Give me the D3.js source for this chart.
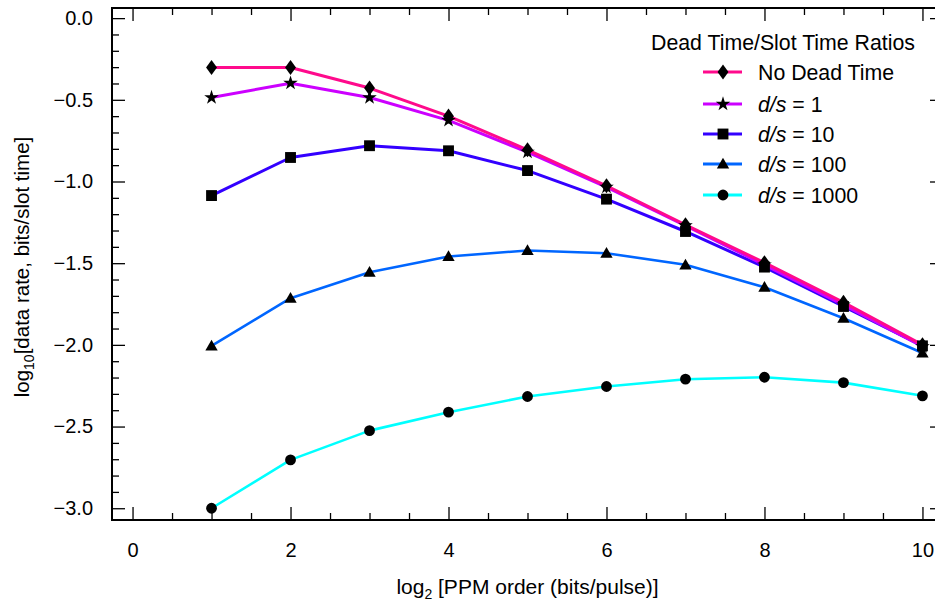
<!DOCTYPE html>
<html><head><meta charset="utf-8">
<script src="https://cdn.jsdelivr.net/npm/d3@7"></script>
<style>body{margin:0;background:#fff} text{font-family:"Liberation Sans",Arial,Helvetica,sans-serif;fill:#000}</style>
</head><body><svg id="c" width="935" height="601"></svg>
<script>
const xValues=[1,2,3,4,5,6,7,8,9,10];
const noDeadTime=[-0.302,-0.302,-0.428,-0.600,-0.806,-1.026,-1.265,-1.497,-1.740,-2.000];
const ds1=[-0.486,-0.398,-0.486,-0.626,-0.820,-1.034,-1.270,-1.510,-1.755,-2.010];
const ds10=[-1.086,-0.853,-0.781,-0.812,-0.933,-1.108,-1.306,-1.524,-1.765,-2.006];
const ds100=[-2.006,-1.714,-1.555,-1.459,-1.422,-1.439,-1.510,-1.647,-1.837,-2.050];
const ds1000=[-3.000,-2.704,-2.525,-2.412,-2.316,-2.255,-2.210,-2.198,-2.231,-2.312];
const seriesNames=["No Dead Time","d/s = 1","d/s = 10","d/s = 100","d/s = 1000"];
const seriesColors=["#ff0a8c","#cc00ff","#3300ff","#0066ff","#00ffff"];
const xMajorTicks=[0,2,4,6,8,10];
const yMajorTicks=[0,-0.5,-1,-1.5,-2,-2.5,-3];
const legendTitle="Dead Time/Slot Time Ratios";

const svg=d3.select("#c");
const mL=112,mR=943,mT=8,mB=520;
const x=d3.scaleLinear().domain([-0.26,10.26]).range([mL,mR]);
const y=d3.scaleLinear().domain([-3.072,0.062]).range([mB,mT]);

const allSeries=[noDeadTime,ds1,ds10,ds100,ds1000];
const symbolTypes=[d3.symbolDiamond,d3.symbolStar,d3.symbolSquare,d3.symbolTriangle,d3.symbolCircle];
const symbolSizes=[66,66,118,66,92];
function sym(i){return d3.symbol().type(symbolTypes[i]).size(symbolSizes[i])();}
function symTransform(i){return i===0?" scale(1.25,1)":(i===3?" translate(0,1)":"");}

const fmt=d3.format(".1f");
const gAxes=svg.append("g");
const minorX=d3.range(0,10.01,0.5).filter(v=>Math.abs(v/2-Math.round(v/2))>1e-6);
const minorY=d3.range(-30,1,1).map(v=>v/10).filter(v=>Math.abs(v*2-Math.round(v*2))>1e-6);

function styleAxis(g){g.select(".domain").remove();g.selectAll(".tick line").attr("stroke","#000").attr("stroke-width",1.3);}

gAxes.append("g").attr("transform",`translate(${mL},0)`)
  .call(d3.axisLeft(y).tickValues(yMajorTicks).tickSize(-13).tickPadding(19).tickFormat(fmt))
  .call(styleAxis).call(g=>g.selectAll("text").attr("font-size",20).attr("font-family",null));
gAxes.append("g").attr("transform",`translate(${mL},0)`)
  .call(d3.axisLeft(y).tickValues(minorY).tickSize(-7).tickFormat("")).call(styleAxis);
gAxes.append("g").attr("transform",`translate(${mR},0)`)
  .call(d3.axisRight(y).tickValues(yMajorTicks).tickSize(-13).tickFormat("")).call(styleAxis);
gAxes.append("g").attr("transform",`translate(${mR},0)`)
  .call(d3.axisRight(y).tickValues(minorY).tickSize(-7).tickFormat("")).call(styleAxis);
gAxes.append("g").attr("transform",`translate(0,${mB})`)
  .call(d3.axisBottom(x).tickValues(xMajorTicks).tickSize(-13).tickPadding(23).tickFormat(d3.format("d")))
  .call(styleAxis).call(g=>g.selectAll("text").attr("font-size",20).attr("font-family",null));
gAxes.append("g").attr("transform",`translate(0,${mB})`)
  .call(d3.axisBottom(x).tickValues(minorX).tickSize(-7).tickFormat("")).call(styleAxis);
gAxes.append("g").attr("transform",`translate(0,${mT})`)
  .call(d3.axisTop(x).tickValues(xMajorTicks).tickSize(-13).tickFormat("")).call(styleAxis);
gAxes.append("g").attr("transform",`translate(0,${mT})`)
  .call(d3.axisTop(x).tickValues(minorX).tickSize(-7).tickFormat("")).call(styleAxis);

svg.append("rect").attr("x",mL).attr("y",mT).attr("width",mR-mL).attr("height",mB-mT)
  .attr("fill","none").attr("stroke","#000").attr("stroke-width",2);

const line=d3.line().x((d,i)=>x(xValues[i])).y(d=>y(d));
[4,3,2,1,0].forEach(i=>{
  svg.append("path").datum(allSeries[i]).attr("d",line).attr("fill","none")
    .attr("stroke",seriesColors[i]).attr("stroke-width",i<3?3:2.6).attr("stroke-linejoin","round");
});
[0,1,2,3,4].forEach(i=>{
  svg.append("g").selectAll("path").data(allSeries[i]).join("path")
    .attr("d",sym(i)).attr("fill","#000")
    .attr("transform",(d,j)=>`translate(${x(xValues[j])},${y(d)})`+symTransform(i));
});

const xt=svg.append("text").attr("x",(mL+mR)/2).attr("y",594).attr("text-anchor","middle").attr("font-size",21);
xt.append("tspan").text("log");
xt.append("tspan").text("2").attr("font-size",14).attr("dy",5);
xt.append("tspan").text(" [PPM order (bits/pulse)]").attr("dy",-5);

const yt=svg.append("text").attr("transform",`translate(29,${(mT+mB)/2+3}) rotate(-90)`).attr("text-anchor","middle").attr("font-size",20.5);
yt.append("tspan").text("log");
yt.append("tspan").text("10").attr("font-size",14).attr("dy",5);
yt.append("tspan").text("[data rate, bits/slot time]").attr("dy",-5);

const lg=svg.append("g");
lg.append("text").attr("x",651).attr("y",50).attr("font-size",21.3).text(legendTitle);
const legY=[72,104,134,164,195];
seriesNames.forEach((name,i)=>{
  const gy=legY[i];
  lg.append("line").attr("x1",703).attr("x2",742).attr("y1",gy).attr("y2",gy)
    .attr("stroke",seriesColors[i]).attr("stroke-width",3);
  lg.append("path").attr("d",sym(i)).attr("fill","#000").attr("transform",`translate(723,${gy})`+symTransform(i));
  const t=lg.append("text").attr("x",758).attr("y",gy+7.5).attr("font-size",21.3);
  if(name.startsWith("d/s")){
    t.append("tspan").text("d/s").attr("font-style","italic");
    t.append("tspan").text(name.slice(3));
  } else t.text(name);
});
</script></body></html>
